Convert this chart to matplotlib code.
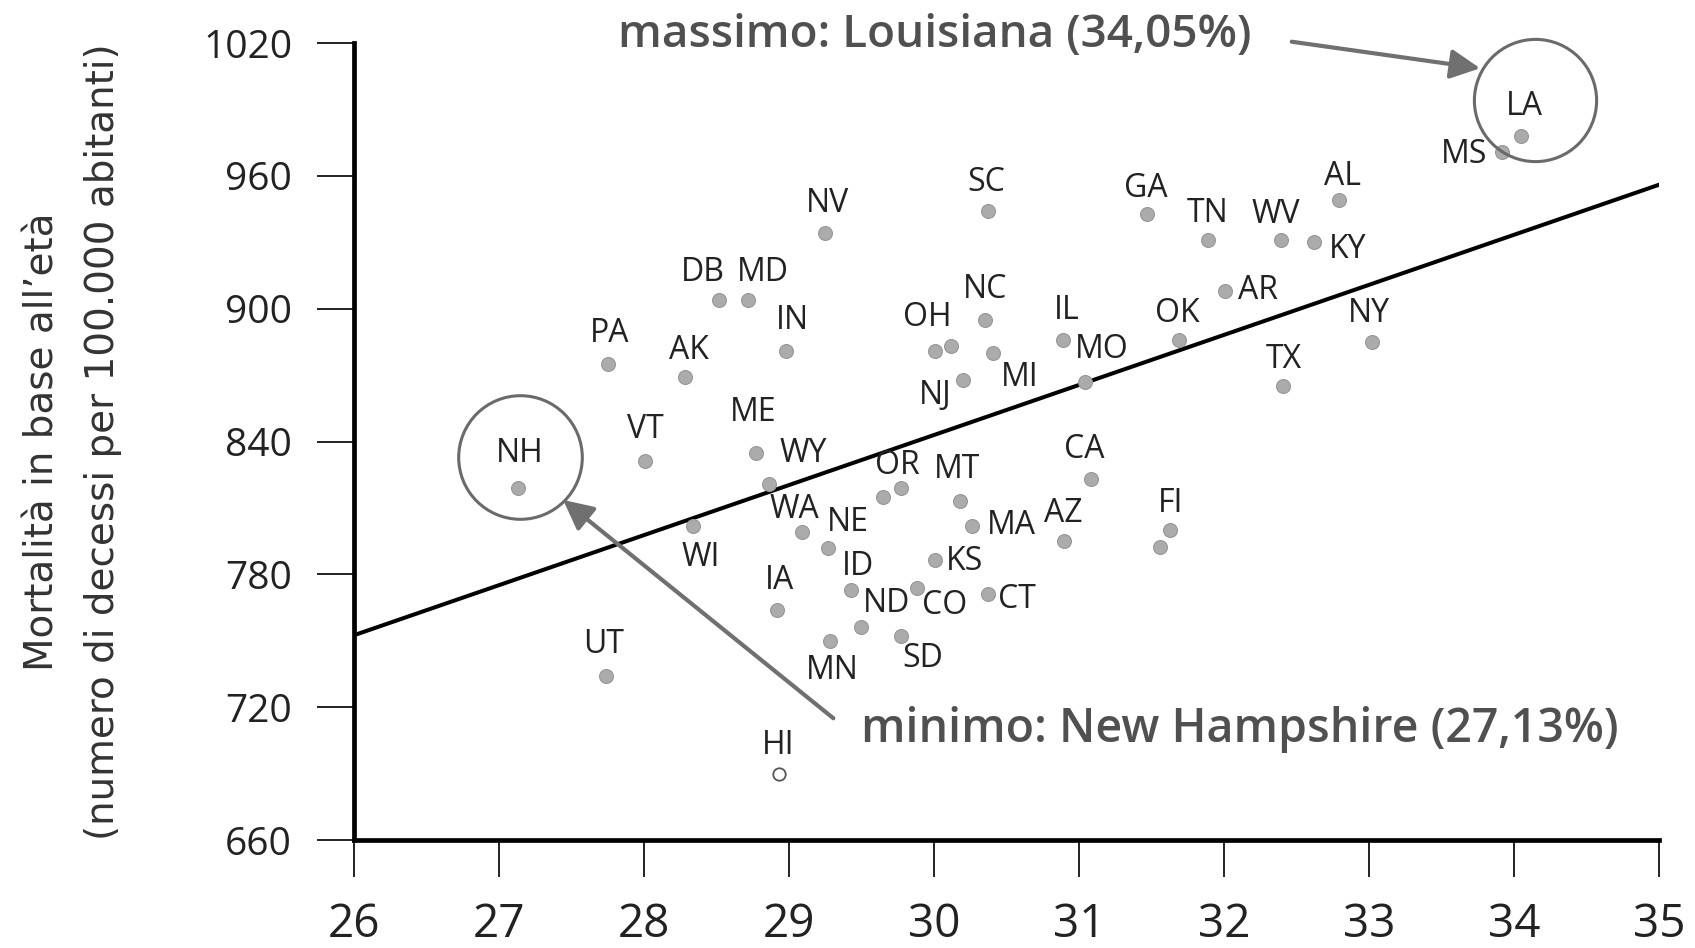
import numpy as np
import matplotlib
matplotlib.use('Agg')
import matplotlib.pyplot as plt
from matplotlib import font_manager

# data
states = ['LA', 'MS', 'AL', 'GA', 'TN', 'WV', 'KY', 'SC', 'NV', 'DB', 'MD', 'NC',
          'AR', 'OK', 'NY', 'IL', 'MO', 'OH', '', 'IN', 'PA', 'AK', 'NJ', 'MI',
          'TX', 'ME', 'VT', 'NH', 'WY', 'CA', 'OR', '', 'MT', 'WA', 'FI', '',
          'NE', 'MA', 'AZ', 'WI', 'KS', 'ID', 'IA', 'ND', 'CO', 'CT', 'SD',
          'UT', 'MN', 'HI']
pct = [34.05, 33.92, 32.79, 31.47, 31.89, 32.39, 32.62, 30.37, 29.25, 28.52, 28.72, 30.35,
       32.01, 31.69, 33.02, 30.89, 31.04, 30.01, 30.12, 28.98, 27.75, 28.28, 30.20, 30.41,
       32.41, 28.77, 28.01, 27.13, 28.86, 31.08, 29.77, 29.65, 30.18, 29.09, 31.63, 31.56,
       29.27, 30.26, 30.90, 28.34, 30.01, 29.43, 28.92, 29.50, 29.88, 30.37, 29.77,
       27.74, 29.28, 28.93]
mort = [978, 971, 949, 943, 931, 931, 930, 944, 934, 904, 904, 895,
        908, 886, 885, 886, 867, 881, 883, 881, 875, 869, 868, 880,
        865, 835, 831, 819, 821, 823, 819, 815, 813, 799, 800, 792.5,
        792, 802, 795, 802, 786.5, 773, 764, 756, 774, 771, 752,
        734, 750, 690]
trend_x = [26, 35]
trend_y = [752.5, 956]
xticks = [26, 27, 28, 29, 30, 31, 32, 33, 34, 35]
yticks = [660, 720, 780, 840, 900, 960, 1020]

# label offsets in pixels (dx, dy up)
offsets = {'LA': (3, 30), 'MS': (-38, -3), 'AL': (4, 24), 'GA': (-1, 25), 'TN': (0, 27),
           'WV': (-5, 26), 'KY': (34, -7), 'SC': (-1, 29), 'NV': (2, 30), 'DB': (-16, 27),
           'MD': (15, 27), 'NC': (0, 30), 'AR': (33, 0), 'OK': (-2, 26), 'NY': (-3, 28),
           'IL': (4, 29), 'MO': (17, 32), 'OH': (-8, 33), 'IN': (6, 30), 'PA': (2, 31),
           'AK': (4, 27), 'NJ': (-28, -16), 'MI': (26, -25), 'TX': (0, 27), 'ME': (-2, 40),
           'VT': (0, 32), 'NH': (2, 35), 'WY': (35, 30), 'CA': (-6, 30), 'OR': (-3, 23),
           'MT': (-3, 32), 'WA': (-8, 23), 'FI': (0, 27), 'NE': (20, 25), 'MA': (40, 0),
           'AZ': (-1, 28), 'WI': (8, -32), 'KS': (29, -2), 'ID': (7, 23), 'IA': (2, 29),
           'ND': (25, 24), 'CO': (28, -18), 'CT': (29, -5), 'SD': (22, -22), 'UT': (-3, 32),
           'MN': (3, -30), 'HI': (-1, 28)}

names = {f.name for f in font_manager.fontManager.ttflist}
lab_font = 'Open Sans' if 'Open Sans' in names else 'DejaVu Sans'

fig = plt.figure(figsize=(16.95, 9.48), dpi=100)
ax = fig.add_axes([0.2088, 0.1139, 0.7700, 0.8407])

ax.plot(trend_x, trend_y, color='black', lw=2.9, zorder=2)

pct = np.array(pct)
mort = np.array(mort)
hi = np.array([s == 'HI' for s in states])
ax.scatter(pct[~hi], mort[~hi], s=100, color='#ababab', edgecolor='#979797', lw=0.8, zorder=3)
ax.scatter(pct[hi], mort[hi], s=80, facecolor='white', edgecolor='#555555', lw=1.3, zorder=3)

for s, x, y in zip(states, pct, mort):
    if s == '':
        continue
    dx, dy = offsets[s]
    ax.annotate(s, (x, y), xytext=(dx, dy), textcoords='offset pixels',
                ha='center', va='center', fontsize=23, color='#222222',
                family=lab_font, zorder=4)

# circles around max and min
ax.plot([34.145], [994.2], marker='o', ms=88, mfc='none', mec='#6a6a6a', mew=2.2,
        clip_on=False, zorder=4)
ax.plot([27.145], [833], marker='o', ms=89, mfc='none', mec='#6a6a6a', mew=2.2,
        clip_on=False, zorder=4)

arrow = dict(arrowstyle='-|>,head_length=0.9,head_width=0.45', color='#707070', lw=3,
             shrinkA=0, shrinkB=0, mutation_scale=20)
ax.annotate('', xy=(33.766, 1008.6), xytext=(32.467, 1020.6), arrowprops=arrow,
            annotation_clip=False)
ax.annotate('', xy=(27.443, 813.6), xytext=(29.306, 715), arrowprops=arrow,
            annotation_clip=False)

ax.text(27.82, 1023.6, 'massimo: Louisiana (34,05%)', ha='left', va='center',
        fontsize=33, fontweight='semibold', color='#505050', family=lab_font,
        clip_on=False)
ax.text(29.497, 709.7, 'minimo: New Hampshire (27,13%)', ha='left', va='center',
        fontsize=33.5, fontweight='semibold', color='#505050', family=lab_font,
        zorder=5)

ax.set_xlim(26, 35)
ax.set_ylim(660, 1020)
ax.set_xticks(xticks)
ax.set_yticks(yticks)
for side in ['top', 'right']:
    ax.spines[side].set_visible(False)
for side in ['left', 'bottom']:
    ax.spines[side].set_linewidth(3.4)
ax.tick_params(direction='out', length=26.5, width=1.4, color='#222222', pad=18)
for t in ax.get_yticklabels():
    t.set_fontsize(28)
    t.set_family(lab_font)
    t.set_color('#222222')
for t in ax.get_xticklabels():
    t.set_fontsize(33)
    t.set_family(lab_font)
    t.set_color('#222222')

fig.text(43 / 1695, 0.534, 'Mortalità in base all’età', rotation=90, ha='center',
         va='center', fontsize=28, family='DejaVu Sans', color='#333333')
fig.text(103 / 1695, 0.534, '(numero di decessi per 100.000 abitanti)', rotation=90,
         ha='center', va='center', fontsize=28, family='DejaVu Sans', color='#333333')

fig.savefig('out.png', dpi=100, facecolor='white')
